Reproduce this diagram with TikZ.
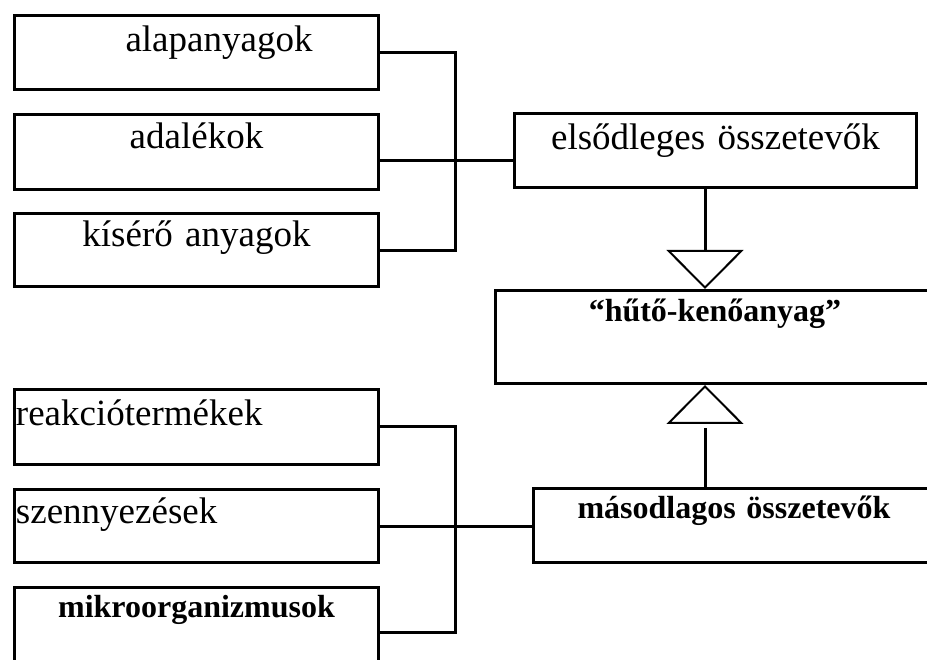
\documentclass[tikz,border=0pt]{standalone}
\usepackage{fontspec}
\setmainfont{Liberation Serif}
\usetikzlibrary{arrows.meta}

\begin{document}
\begin{tikzpicture}[x=1pt, y=-1pt,
    normaltext/.style={font=\fontsize{37}{44}\selectfont},
    boldtext/.style={font=\bfseries\fontsize{32}{38}\selectfont},
    gen/.style={-{Triangle[open, length=39pt, width=77pt, line width=2pt]}}]
        \useasboundingbox (0,0) rectangle (927,660);
        \clip (0,0) rectangle (927,660);
        \begin{scope}[every node/.style={draw, line width=3pt, inner sep=0, align=center, normaltext}]
                \node[text width=364pt, text height=36.5pt, text depth=37.5pt] (Alap) at (196.5,52.5) {\hspace*{45pt}alapanyagok};
                \node[text width=364pt, text height=34.5pt, text depth=40.5pt] (Adal) at (196.5,152) {adalékok};
                \node[text width=364pt, text height=33.5pt, text depth=40pt] (Kis) at (196.5,250.25) {kísérő anyagok};
                \node[text width=402pt, text height=36pt, text depth=38pt] (Elso) at (715.5,151) {elsődleges összetevők};
                \node[text width=439pt, text height=31.5pt, text depth=61.5pt, boldtext] (HK) at (715,337) {“hűtő-kenőanyag”};
                \node[text width=401pt, text height=29.5pt, text depth=44.5pt, boldtext] (Maso) at (734,525.5) {másodlagos összetevők};
                \node[text width=364pt, text height=35.5pt, text depth=39.5pt, align=left] (Reak) at (196.5,427) {\hspace*{1.5pt}reakciótermékek};
                \node[text width=364pt, text height=33.5pt, text depth=39.5pt, align=left] (Szen) at (196.5,526) {\hspace*{1.5pt}szennyezések};
                \node[text width=364pt, text height=29.5pt, text depth=59.5pt, boldtext] (Mikro) at (196.5,632) {mikroorganizmusok};
        \end{scope}
        \coordinate (bus) at (455,0);
        \coordinate (axis) at (705,0);
        \coordinate (stemB) at (705,428);
        \coordinate (baseB) at (705,422);
        \begin{scope}[line width=3pt]
                \draw (Alap.east) -- (Alap.east -| bus) |- (Kis.east);
                \draw ([yshift=-9pt]Adal.east) -- ([yshift=-9pt]Adal.east -| Elso.west);
                \draw (Reak.east) -- (Reak.east -| bus) |- (Mikro.east);
                \draw (Szen.east) -- (Szen.east -| Maso.west);
                \draw[gen] (Elso.south -| axis) -- (HK.north -| axis);
                \draw (Maso.north -| axis) -- (stemB);
                \draw[gen] (baseB) -- (HK.south -| axis);
        \end{scope}
\end{tikzpicture}
\end{document}
